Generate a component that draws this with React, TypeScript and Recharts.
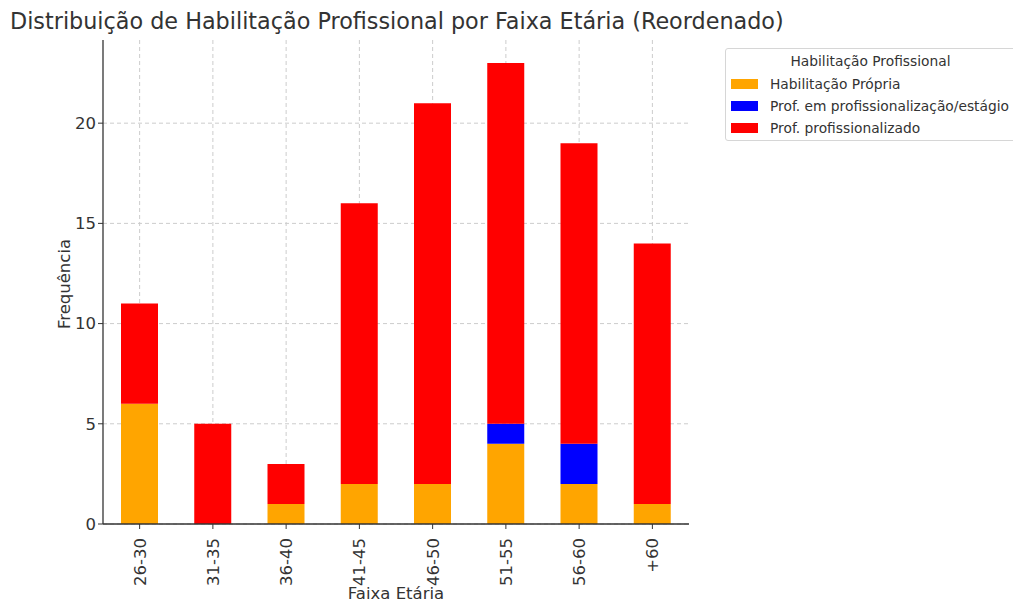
import React from "react";
import { BarChart, Bar, XAxis, YAxis, CartesianGrid } from "recharts";

const categories = ["26-30", "31-35", "36-40", "41-45", "46-50", "51-55", "56-60", "+60"];
const habilitacaoPropria = [6, 0, 1, 2, 2, 4, 2, 1];
const emProfissionalizacao = [0, 0, 0, 0, 0, 1, 2, 0];
const profissionalizado = [5, 5, 2, 14, 19, 18, 15, 13];
const yTicks = [0, 5, 10, 15, 20];

const seriesNames = ["Habilitação Própria", "Prof. em profissionalização/estágio", "Prof. profissionalizado"];
const seriesColors = ["#FFA500", "#0000FF", "#FF0000"];

const data = categories.map((c, i) => ({
  cat: c,
  a: habilitacaoPropria[i],
  b: emProfissionalizacao[i],
  c: profissionalizado[i],
}));

const FONT = "'DejaVu Sans', sans-serif";

const XTick = (props: any) => {
  const { x, y, payload } = props;
  return (
    <g transform={`translate(${x},${y + 7}) rotate(-90)`}>
      <text x={0} y={0} dy="0.36em" textAnchor="end" fill="#333" fontSize={16.5} fontFamily={FONT}>
        {payload.value}
      </text>
    </g>
  );
};

const LegendBox = () => (
  <div
    style={{
      position: "absolute",
      left: 725,
      top: 48,
      border: "1px solid #d6d6d6",
      borderRadius: 3,
      background: "#fff",
      width: 300,
      height: 93,
      boxSizing: "border-box",
      fontFamily: FONT,
      color: "#333",
      fontSize: 13.8,
    }}
  >
    <div style={{ position: "absolute", left: 0, width: 289, top: 4, textAlign: "center", whiteSpace: "nowrap" }}>
      Habilitação Profissional
    </div>
    {seriesNames.map((n, i) => (
      <div key={n} style={{ position: "absolute", left: 5, top: 26.5 + i * 22, display: "flex", alignItems: "center", whiteSpace: "nowrap" }}>
        <span style={{ display: "inline-block", width: 27, height: 10, background: seriesColors[i], marginRight: 12 }} />
        <span>{n}</span>
      </div>
    ))}
  </div>
);

export default function App() {
  return (
    <div style={{ position: "absolute", left: 0, top: 0, width: 1013, height: 601, background: "#fff", overflow: "hidden" }}>
      <BarChart
        width={1013}
        height={601}
        data={data}
        margin={{ top: 40, right: 324, bottom: 0, left: 43 }}
        barCategoryGap={0}
        style={{ position: "absolute", left: 0, top: 0 }}
      >
        <CartesianGrid stroke="#cccccc" strokeDasharray="4 3" horizontalValues={yTicks} verticalValues={categories} />
        <XAxis
          dataKey="cat"
          height={77}
          tick={<XTick />}
          tickSize={5}
          axisLine={{ stroke: "#333", strokeWidth: 1.3 }}
          tickLine={{ stroke: "#333" }}
          interval={0}
        />
        <YAxis
          width={60}
          domain={[0, 24.15]}
          ticks={yTicks}
          tickSize={5}
          axisLine={{ stroke: "#333", strokeWidth: 1.3 }}
          tickLine={{ stroke: "#333" }}
          tick={{ fill: "#333", fontSize: 16.5, fontFamily: FONT }}
          allowDataOverflow
        />
        <Bar dataKey="a" name={seriesNames[0]} stackId="s" fill={seriesColors[0]} barSize={37} isAnimationActive={false} />
        <Bar dataKey="b" name={seriesNames[1]} stackId="s" fill={seriesColors[1]} barSize={37} isAnimationActive={false} />
        <Bar dataKey="c" name={seriesNames[2]} stackId="s" fill={seriesColors[2]} barSize={37} isAnimationActive={false} />
      </BarChart>
      <div style={{ position: "absolute", left: 10, top: 8, fontFamily: FONT, fontSize: 22.3, color: "#333", whiteSpace: "nowrap" }}>
        Distribuição de Habilitação Profissional por Faixa Etária (Reordenado)
      </div>
      <div style={{ position: "absolute", left: 396, top: 593, fontFamily: FONT, fontSize: 16.5, color: "#333", whiteSpace: "nowrap", transform: "translate(-50%, -50%)" }}>
        Faixa Etária
      </div>
      <div
        style={{
          position: "absolute",
          left: 64,
          top: 284,
          fontFamily: FONT,
          fontSize: 16.5,
          color: "#333",
          whiteSpace: "nowrap",
          transform: "translate(-50%, -50%) rotate(-90deg)",
        }}
      >
        Frequência
      </div>
      <LegendBox />
    </div>
  );
}
